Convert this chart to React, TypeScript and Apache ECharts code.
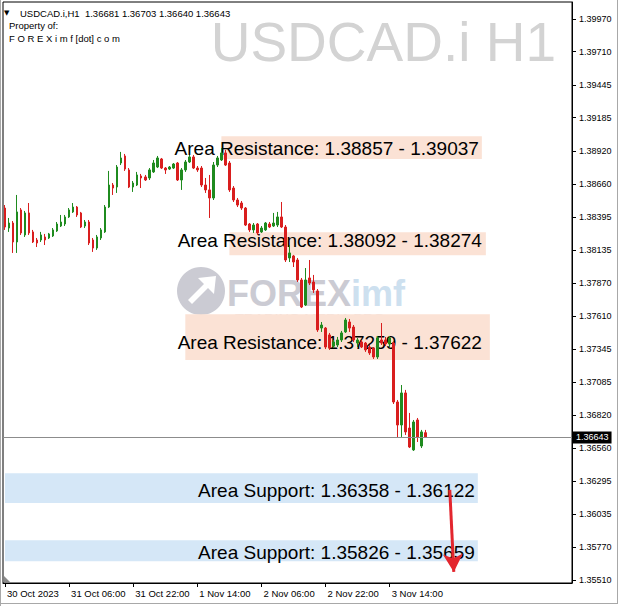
import React, { useEffect, useRef } from "react";
import * as echarts from "echarts";

// ---- time axis ----
const dayNames = ["30 Oct", "31 Oct", "1 Nov", "2 Nov", "3 Nov", "4 Nov", "5 Nov"];
const startHour = 14;
const slotCount = 142;
const tickEvery = 16;
const tickLabels = ["30 Oct 2023", "31 Oct 06:00", "31 Oct 22:00", "1 Nov 14:00", "2 Nov 06:00", "2 Nov 22:00", "3 Nov 14:00"];

// ---- price axis ----
const priceLabels = [1.3551, 1.3577, 1.36035, 1.36295, 1.3656, 1.3682, 1.37085, 1.37345, 1.3761, 1.3787, 1.38135, 1.38395, 1.3866, 1.3892, 1.39185, 1.39445, 1.3971, 1.3997];
const priceMin = 1.35486;
const priceMax = 1.40105;

// ---- H1 candles ----
const opens = [1.38467, 1.38308, 1.38348, 1.38197, 1.38452, 1.38253, 1.38428, 1.38277, 1.38213, 1.38213, 1.38237, 1.38229, 1.38245, 1.38285, 1.38324, 1.3834, 1.38396, 1.38436, 1.38475, 1.38428, 1.38324, 1.38356, 1.38213, 1.38149, 1.38229, 1.38277, 1.38475, 1.3865, 1.38634, 1.38825, 1.38881, 1.3877, 1.38634, 1.3865, 1.38722, 1.38714, 1.38706, 1.38754, 1.38793, 1.38857, 1.38785, 1.38777, 1.38785, 1.38825, 1.3869, 1.3877, 1.38833, 1.38873, 1.38785, 1.38785, 1.3865, 1.38611, 1.38547, 1.38809, 1.38849, 1.38905, 1.38825, 1.38626, 1.38531, 1.38507, 1.38467, 1.3834, 1.38293, 1.3834, 1.38277, 1.38293, 1.3834, 1.38324, 1.38332, 1.38396, 1.38316, 1.3807, 1.38086, 1.38054, 1.37895, 1.37696, 1.37911, 1.37879, 1.37808, 1.37513, 1.37513, 1.37458, 1.3737, 1.37378, 1.37418, 1.37482, 1.37561, 1.37521, 1.37394, 1.37402, 1.37394, 1.37362, 1.37354, 1.37283, 1.37418, 1.37418, 1.37386, 1.37394, 1.36925, 1.36742, 1.36997, 1.36718, 1.36544, 1.36782, 1.36575, 1.36681];
const closes = [1.38316, 1.38348, 1.38197, 1.38436, 1.38269, 1.38428, 1.38269, 1.38197, 1.38189, 1.38253, 1.38213, 1.38261, 1.38293, 1.3834, 1.38356, 1.38396, 1.38452, 1.38475, 1.38412, 1.38316, 1.38356, 1.38189, 1.38149, 1.38237, 1.38293, 1.38475, 1.3865, 1.38626, 1.38793, 1.38865, 1.38777, 1.38634, 1.38666, 1.3873, 1.38706, 1.3869, 1.3877, 1.38825, 1.38865, 1.38785, 1.3877, 1.38793, 1.38817, 1.3869, 1.3877, 1.38833, 1.38873, 1.38785, 1.3877, 1.3865, 1.38611, 1.38547, 1.38809, 1.38865, 1.38905, 1.38809, 1.38611, 1.38531, 1.38491, 1.38467, 1.38332, 1.38293, 1.38332, 1.38269, 1.38308, 1.38348, 1.38316, 1.38348, 1.38396, 1.38316, 1.38054, 1.3811, 1.38038, 1.37895, 1.3768, 1.37895, 1.37871, 1.37816, 1.37498, 1.37537, 1.37362, 1.37354, 1.37402, 1.37418, 1.37474, 1.37577, 1.37513, 1.37418, 1.37418, 1.37362, 1.37339, 1.37315, 1.37283, 1.37434, 1.37394, 1.37386, 1.37434, 1.36925, 1.36742, 1.36997, 1.36687, 1.36567, 1.36766, 1.36647, 1.36687, 1.36643];
const lows = [1.38293, 1.38277, 1.3811, 1.3811, 1.38253, 1.38237, 1.38253, 1.38189, 1.38157, 1.38197, 1.38173, 1.38221, 1.38237, 1.38277, 1.38316, 1.38324, 1.38388, 1.38428, 1.38396, 1.38308, 1.38308, 1.38173, 1.38118, 1.38134, 1.38213, 1.38269, 1.38467, 1.38571, 1.38587, 1.38809, 1.38762, 1.38626, 1.38595, 1.38642, 1.38626, 1.38682, 1.3869, 1.38746, 1.38785, 1.38777, 1.38738, 1.3877, 1.38777, 1.38682, 1.38611, 1.38754, 1.38825, 1.38777, 1.38754, 1.38634, 1.38587, 1.38388, 1.38531, 1.38793, 1.38841, 1.38801, 1.38595, 1.38515, 1.38475, 1.38452, 1.38324, 1.38277, 1.38269, 1.38253, 1.38269, 1.38285, 1.38308, 1.38316, 1.38316, 1.38308, 1.38038, 1.38038, 1.37998, 1.37879, 1.37672, 1.37688, 1.37855, 1.37792, 1.37482, 1.37482, 1.37346, 1.37339, 1.37354, 1.37362, 1.37402, 1.37474, 1.37482, 1.37402, 1.37362, 1.37354, 1.37323, 1.37299, 1.37267, 1.37267, 1.37378, 1.3737, 1.37362, 1.36909, 1.36639, 1.36647, 1.36663, 1.36559, 1.36536, 1.36607, 1.36559, 1.3664];
const highs = [1.38491, 1.38388, 1.38364, 1.38571, 1.38467, 1.38444, 1.38507, 1.38293, 1.38229, 1.38277, 1.38261, 1.38269, 1.38308, 1.38356, 1.38412, 1.38412, 1.38467, 1.38507, 1.38483, 1.38436, 1.38372, 1.38372, 1.38229, 1.38253, 1.38308, 1.38491, 1.38762, 1.38666, 1.38809, 1.38913, 1.38897, 1.38785, 1.38682, 1.38754, 1.38738, 1.3873, 1.38785, 1.38849, 1.38881, 1.38865, 1.38793, 1.38801, 1.38825, 1.38833, 1.38785, 1.38849, 1.38889, 1.38889, 1.38801, 1.38801, 1.38706, 1.3873, 1.38833, 1.38881, 1.38944, 1.38929, 1.38841, 1.38642, 1.38547, 1.38523, 1.38475, 1.38348, 1.38348, 1.38348, 1.38324, 1.38356, 1.38356, 1.38428, 1.38436, 1.38515, 1.38332, 1.38173, 1.38094, 1.3807, 1.37911, 1.3799, 1.38054, 1.37935, 1.37823, 1.37561, 1.37521, 1.37474, 1.37418, 1.37442, 1.3749, 1.37593, 1.37585, 1.37537, 1.37434, 1.37418, 1.37402, 1.37378, 1.37362, 1.3745, 1.37553, 1.37442, 1.3745, 1.37402, 1.36941, 1.3706, 1.37021, 1.36838, 1.36782, 1.36798, 1.36703, 1.36703];

// ---- zones ----
const zoneKind = ["Area Resistance", "Area Resistance", "Area Resistance", "Area Support", "Area Support"];
const zoneFirst = [1.38857, 1.38092, 1.37259, 1.36358, 1.35826];
const zoneSecond = [1.39037, 1.38274, 1.37622, 1.36122, 1.35659];
const zoneStart = ["1 Nov 20:00", "1 Nov 22:00", "1 Nov 11:00", "30 Oct 14:00", "30 Oct 14:00"];
const zoneEnd = ["4 Nov 13:00", "4 Nov 14:00", "4 Nov 15:00", "4 Nov 12:00", "4 Nov 12:00"];

// ---- arrow annotation ----
const arrowTime = ["4 Nov 05:00", "4 Nov 06:00"];
const arrowPrice = [1.36226, 1.35574];

const zoneLabelShift = [
  { distance: 3, dy: 1 },
  { distance: 4, dy: -3 },
  { distance: 8, dy: 5 },
  { distance: 3, dy: 2 },
  { distance: 3, dy: 2 },
];

const FONT = "Liberation Sans";

export default function App() {
  const ref = useRef<HTMLDivElement>(null);

  useEffect(() => {
    if (!ref.current) return;
    const chart = echarts.init(ref.current, undefined, { renderer: "svg" });

    const categories: string[] = [];
    for (let k = 0; k < slotCount; k++) {
      const t = startHour + k;
      categories.push(`${dayNames[Math.floor(t / 24)]} ${String(t % 24).padStart(2, "0")}:00`);
    }
    const candles = opens.map((o, i) => [o, closes[i], lows[i], highs[i]]);
    const last = opens.length - 1;
    const lastClose = closes[last];
    const fmt = (v: number) => v.toFixed(5);
    const showTick = (i: number) => i % tickEvery === 0 && i / tickEvery < tickLabels.length;

    const areaData = zoneKind.map((kind, i) => {
      const hi = Math.max(zoneFirst[i], zoneSecond[i]);
      const lo = Math.min(zoneFirst[i], zoneSecond[i]);
      const isRes = kind.indexOf("Resistance") >= 0;
      return [
        {
          name: `${kind}: ${fmt(zoneFirst[i])} - ${fmt(zoneSecond[i])}`,
          xAxis: zoneStart[i],
          yAxis: hi,
          itemStyle: { color: isRes ? "#fbe2d5" : "#d5e7f7" },
          label: {
            show: true,
            position: "insideRight",
            distance: zoneLabelShift[i].distance,
            offset: [0, zoneLabelShift[i].dy],
            color: "#000",
            fontSize: 19,
            fontFamily: FONT,
          },
        },
        { xAxis: zoneEnd[i], yAxis: lo },
      ];
    });

    const arrowStyle = { color: "#e3262e", width: 3, type: "solid" };

    const cx = 201;
    const cy = 291;
    const arrowPts = [[-13, 9], [3, -7], [-3, -13], [15, -15], [13, 3], [7, -3], [-9, 13]].map(
      (p) => [cx + p[0], cy + p[1]]
    );

    const option: any = {
      animation: false,
      backgroundColor: "#fff",
      textStyle: { fontFamily: FONT },
      grid: {
        left: 3,
        right: 48,
        top: 2,
        bottom: 23,
        show: true,
        borderColor: "#000",
        borderWidth: 1,
        containLabel: false,
      },
      xAxis: {
        type: "category",
        data: categories,
        boundaryGap: true,
        axisLine: { show: true, lineStyle: { color: "#000" } },
        axisTick: {
          show: true,
          alignWithLabel: true,
          interval: (i: number) => showTick(i),
          length: 4,
          lineStyle: { color: "#000" },
        },
        axisLabel: {
          interval: (i: number) => showTick(i),
          formatter: (_v: string, i: number) => tickLabels[i / tickEvery] ?? "",
          align: "left",
          padding: [0, 0, 0, 2],
          margin: 5,
          fontSize: 9.5,
          color: "#000",
          fontFamily: FONT,
        },
        splitLine: { show: false },
      },
      yAxis: {
        type: "value",
        position: "right",
        min: priceMin,
        max: priceMax,
        scale: true,
        axisLine: { show: true, lineStyle: { color: "#000" } },
        axisTick: { show: true, length: 4, customValues: priceLabels, lineStyle: { color: "#000" } },
        axisLabel: {
          customValues: priceLabels,
          formatter: (v: number) => fmt(v),
          margin: 7,
          fontSize: 9,
          color: "#000",
          fontFamily: FONT,
        },
        splitLine: { show: false },
      },
      series: [
        {
          type: "candlestick",
          data: candles,
          barWidth: 2,
          z: 3,
          itemStyle: {
            color: "#1f8b1f",
            color0: "#d91e1e",
            borderColor: "#1f8b1f",
            borderColor0: "#d91e1e",
            borderWidth: 1,
          },
          markArea: {
            silent: true,
            data: areaData,
          },
          markLine: {
            silent: true,
            precision: 5,
            symbol: ["none", "none"],
            data: [
              {
                yAxis: lastClose,
                lineStyle: { color: "#8c8c8c", width: 1, type: "solid" },
                label: {
                  show: true,
                  position: "end",
                  distance: 1,
                  formatter: fmt(lastClose),
                  backgroundColor: "#000",
                  color: "#fff",
                  fontSize: 9,
                  fontFamily: FONT,
                  padding: [2, 3, 1, 3],
                },
              },
              [
                {
                  coord: [arrowTime[0], arrowPrice[0]],
                  symbol: "none",
                  lineStyle: arrowStyle,
                  label: { show: false },
                },
                {
                  coord: [arrowTime[1], arrowPrice[1]],
                  symbol: "arrow",
                  symbolSize: [15, 18],
                  lineStyle: arrowStyle,
                  label: { show: false },
                },
              ],
            ],
          },
        },
      ],
      graphic: [
        // outer frame
        { type: "line", shape: { x1: 0.5, y1: 0, x2: 0.5, y2: 606 }, style: { stroke: "#a8a8a8", lineWidth: 1 } },
        { type: "line", shape: { x1: 617.5, y1: 0, x2: 617.5, y2: 604 }, style: { stroke: "#a8a8a8", lineWidth: 1 } },
        { type: "line", shape: { x1: 0, y1: 603.5, x2: 618, y2: 603.5 }, style: { stroke: "#a8a8a8", lineWidth: 1 } },
        { type: "polygon", shape: { points: [[4, 576], [4, 582], [10, 582]] }, style: { fill: "#8a8a8a" } },
        // big symbol watermark
        {
          type: "text",
          x: 556,
          y: 42,
          style: {
            text: "USDCAD.i H1",
            fill: "#d3d3d3",
            fontSize: 55,
            fontFamily: FONT,
            align: "right",
            verticalAlign: "middle",
          },
        },
        // logo watermark
        { type: "circle", shape: { cx, cy, r: 24 }, style: { fill: "#cbcbd3" } },
        { type: "polygon", shape: { points: arrowPts }, style: { fill: "#ffffff" } },
        {
          type: "text",
          x: 227,
          y: 293,
          style: { text: "FOREX", fill: "#cbcbd3", fontSize: 36, fontWeight: "bold", fontFamily: FONT, verticalAlign: "middle" },
        },
        {
          type: "text",
          x: 351,
          y: 293,
          style: { text: "imf", fill: "#cde0ef", fontSize: 36, fontWeight: "bold", fontFamily: FONT, verticalAlign: "middle" },
        },
        {
          type: "text",
          x: 235,
          y: 319,
          scaleX: 1.45,
          style: { text: "TRADING MEDIA PRO", fill: "#eadede", fontSize: 10, fontFamily: FONT, verticalAlign: "middle" },
        },
        // header
        {
          type: "text",
          x: 4,
          y: 13,
          style: { text: "▼", fill: "#000", fontSize: 7, fontFamily: "DejaVu Sans", verticalAlign: "middle" },
        },
        {
          type: "text",
          x: 20,
          y: 13,
          style: {
            text: `USDCAD.i,H1  ${fmt(opens[last])} ${fmt(highs[last])} ${fmt(lows[last])} ${fmt(closes[last])}`,
            fill: "#000",
            fontSize: 9.5,
            fontFamily: FONT,
            verticalAlign: "middle",
          },
        },
        {
          type: "text",
          x: 9,
          y: 25.5,
          style: { text: "Property of:", fill: "#000", fontSize: 9.5, fontFamily: FONT, verticalAlign: "middle" },
        },
        {
          type: "text",
          x: 9,
          y: 38,
          style: { text: "F O R E X i m f [dot] c o m", fill: "#000", fontSize: 9.5, fontFamily: FONT, verticalAlign: "middle" },
        },
      ],
    };

    chart.setOption(option);
    return () => chart.dispose();
  }, []);

  return (
    <div
      ref={ref}
      style={{ position: "fixed", left: 0, top: 0, width: 620, height: 606, background: "#fff" }}
    />
  );
}
